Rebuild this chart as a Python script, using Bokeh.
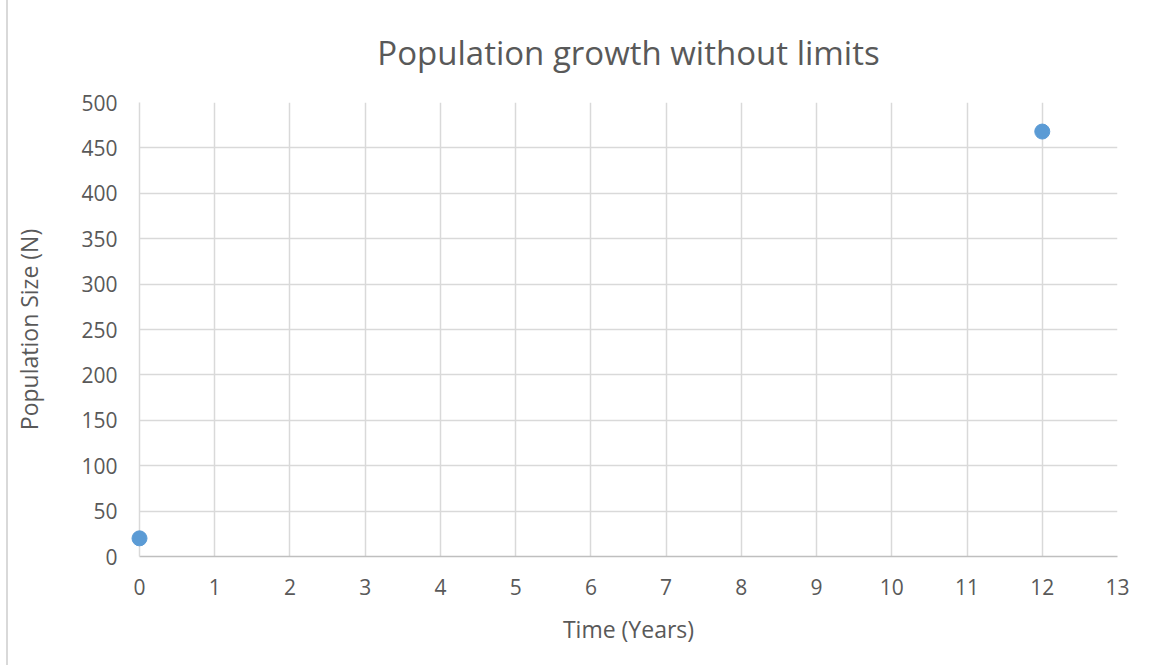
from bokeh.plotting import figure
from bokeh.models import Range1d, FixedTicker, Title
from bokeh.embed import file_html
from bokeh.resources import INLINE

time_years = [0, 12]
population = [20, 468]
x_ticks = list(range(0, 14))
y_ticks = list(range(0, 501, 50))

FONT = "Open Sans"
TXT = "#595959"
GRID = "#d9d9d9"

p = figure(width=1142, height=665, output_backend="svg", toolbar_location=None,
           x_range=Range1d(0, 13), y_range=Range1d(0, 500),
           min_border_left=131, min_border_right=33, min_border_top=102, min_border_bottom=109)

p.title = Title(text="Population growth without limits", align="center",
                text_font=FONT, text_font_size="33px", text_font_style="normal",
                text_color=TXT, standoff=55)

p.scatter(time_years, population, size=15, color="#5b9bd5", line_color="#5b9bd5",
          level="overlay")

p.xaxis.ticker = FixedTicker(ticks=x_ticks)
p.yaxis.ticker = FixedTicker(ticks=y_ticks)
p.xaxis.axis_label = "Time (Years)"
p.yaxis.axis_label = "Population Size (N)"
for ax in (p.xaxis, p.yaxis):
    ax.major_tick_line_color = None
    ax.minor_tick_line_color = None
    ax.major_label_text_font = FONT
    ax.major_label_text_font_size = "21px"
    ax.major_label_text_color = TXT
    ax.axis_label_text_font = FONT
    ax.axis_label_text_font_size = "23px"
    ax.axis_label_text_font_style = "normal"
    ax.axis_label_text_color = TXT
p.xaxis.axis_line_color = "#bfbfbf"
p.xaxis.axis_line_width = 1.5
p.yaxis.axis_line_color = GRID
p.yaxis.axis_line_width = 1.5
p.xaxis.major_label_standoff = 16
p.yaxis.major_label_standoff = 16
p.xaxis.axis_label_standoff = 15
p.yaxis.axis_label_standoff = 33

p.xgrid.grid_line_color = GRID
p.ygrid.grid_line_color = GRID
p.xgrid.grid_line_width = 1.5
p.ygrid.grid_line_width = 1.5
p.outline_line_color = None
p.styles = {"border-left": "2px solid #d9d9d9", "margin-left": "6px"}

open("out.html", "w").write(file_html(p, INLINE))
